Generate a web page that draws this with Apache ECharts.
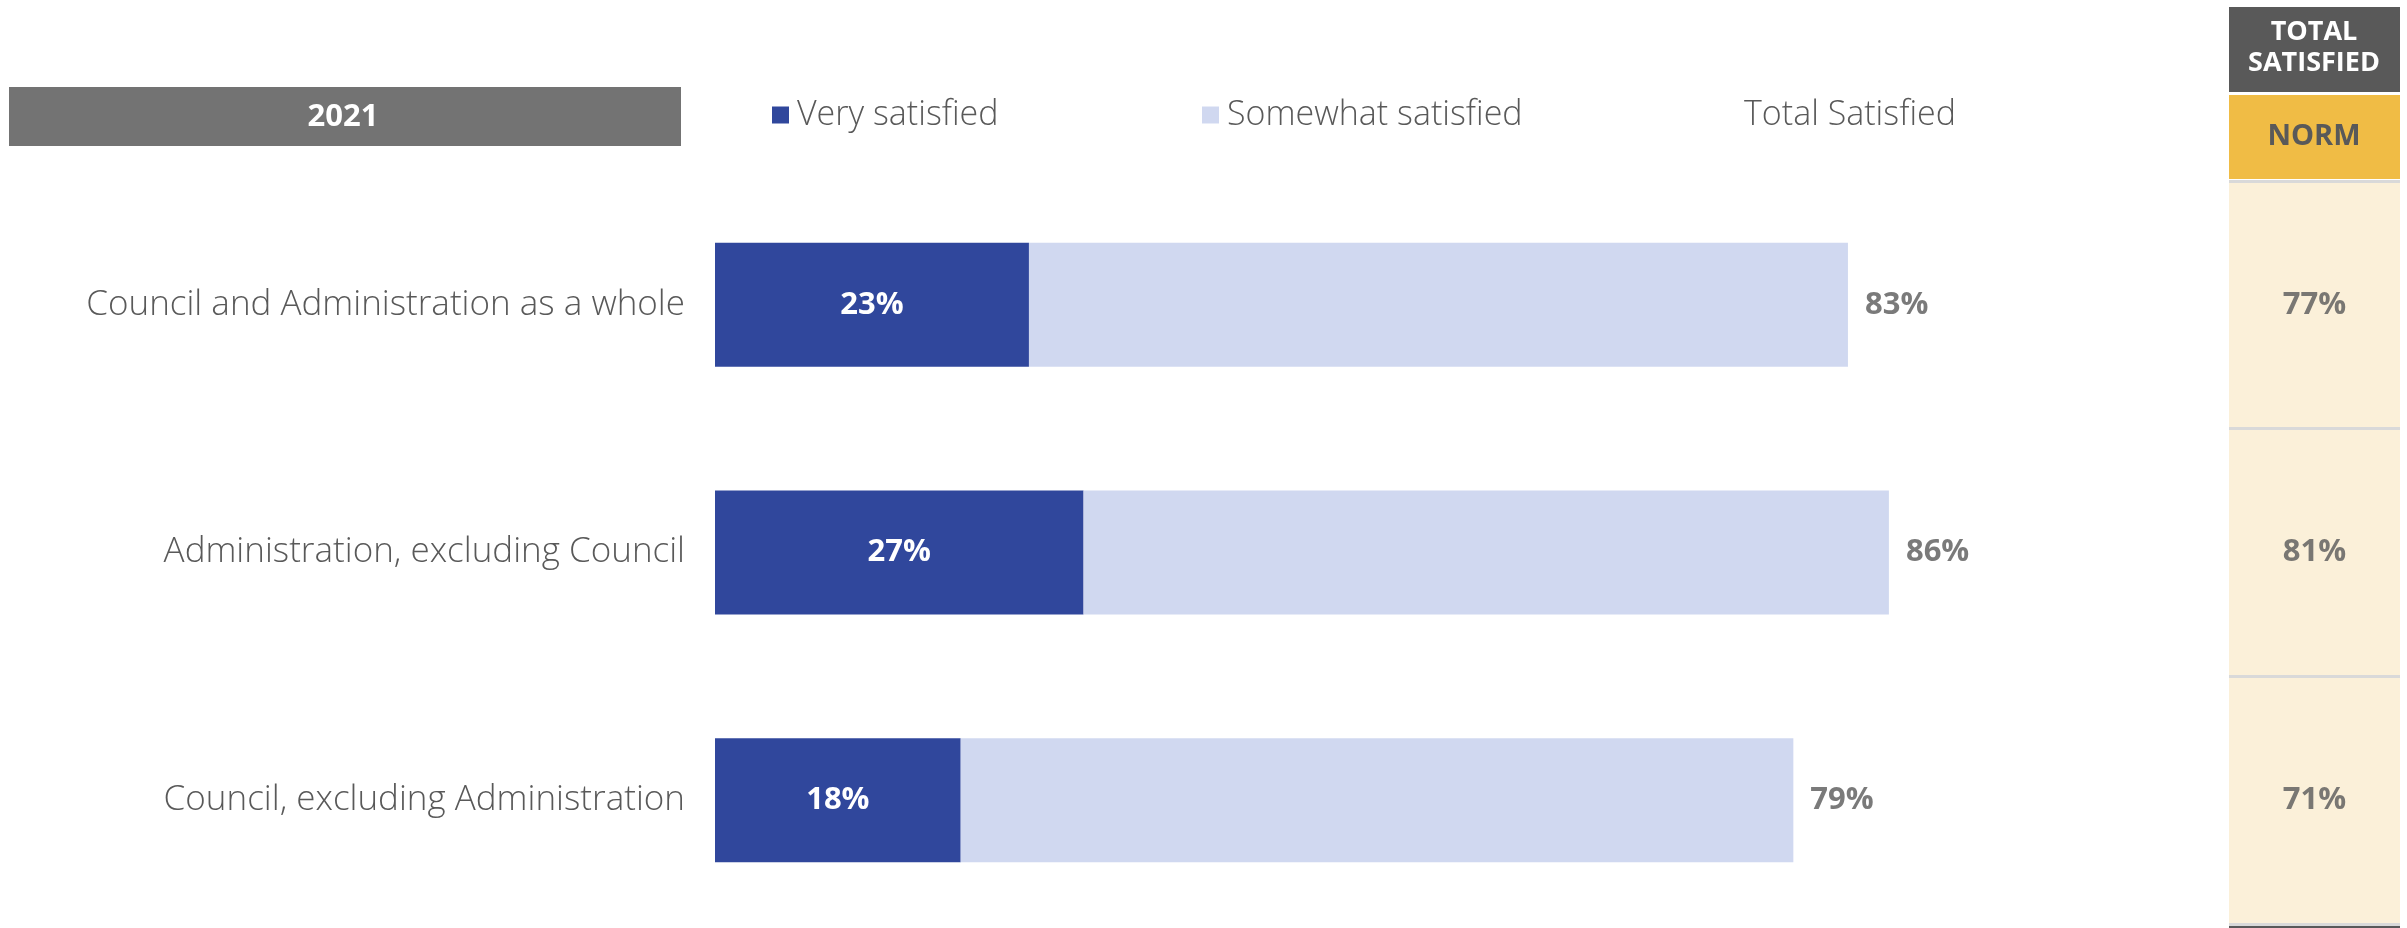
<!DOCTYPE html>
<html>
<head>
<meta charset="utf-8">
<title>Satisfaction 2021</title>
<script src="https://cdn.jsdelivr.net/npm/echarts@6/dist/echarts.min.js"></script>
<style>
  html, body { margin: 0; padding: 0; background: #fff; }
  #chart { width: 2407px; height: 928px; }
</style>
</head>
<body>
<div id="chart"></div>
<script>
// data
var categories = ['Council and Administration as a whole', 'Administration, excluding Council', 'Council, excluding Administration']
var verySatisfied = [23, 27, 18]
var somewhatSatisfied = [60, 59, 61]
var totalSatisfied = [83, 86, 79]
var normTotal = [77, 81, 71]
var yearLabel = '2021'

var FONT = '"Open Sans", "Noto Sans", sans-serif'
var GRAY = '#595959'

var chart = echarts.init(document.getElementById('chart'))

chart.setOption({
  animation: false,
  textStyle: { fontFamily: FONT },
  legend: [
    {
      left: 767, top: 93,
      icon: 'rect',
      itemWidth: 17, itemHeight: 17,
      textStyle: { fontSize: 34, fontWeight: 300, color: GRAY, fontFamily: FONT, padding: [0, 0, 0, 3] },
      data: ['Very satisfied']
    },
    {
      left: 1197, top: 93,
      icon: 'rect',
      itemWidth: 17, itemHeight: 17,
      textStyle: { fontSize: 34, fontWeight: 300, color: GRAY, fontFamily: FONT, padding: [0, 0, 0, 3] },
      data: ['Somewhat satisfied']
    },
    {
      left: 1717, top: 93,
      itemWidth: 17, itemHeight: 17,
      textStyle: { fontSize: 34, fontWeight: 300, color: GRAY, fontFamily: FONT },
      data: [{ name: 'Total Satisfied', icon: 'none' }]
    }
  ],
  grid: [
    // bars
    { left: 715, right: 327, top: 181, bottom: 4 },
    // norm column
    { left: 2229, right: 7, top: 181, bottom: 4 }
  ],
  xAxis: [
    {
      gridIndex: 0,
      type: 'value',
      min: 0,
      max: 100,
      show: false
    },
    {
      gridIndex: 1,
      type: 'category',
      data: ['NORM'],
      position: 'top',
      axisLine: { show: false },
      axisTick: { show: false },
      axisLabel: { show: false }
    }
  ],
  yAxis: [
    {
      gridIndex: 0,
      type: 'category',
      inverse: true,
      data: categories,
      axisLine: { show: false },
      axisTick: { show: false },
      axisLabel: {
        margin: 30,
        fontSize: 35,
        fontWeight: 300,
        color: GRAY,
        fontFamily: FONT
      }
    },
    {
      gridIndex: 1,
      type: 'category',
      inverse: true,
      data: categories,
      axisLine: { show: false },
      axisTick: { show: false },
      axisLabel: { show: false },
      // 单元格背景
      splitArea: {
        show: true,
        areaStyle: { color: ['#FBF0D9'] }
      },
      splitLine: {
        show: true,
        lineStyle: { color: '#D9D9D9', width: 3 }
      }
    }
  ],
  series: [
    {
      name: 'Very satisfied',
      type: 'bar',
      stack: 'sat',
      barWidth: 124,
      data: verySatisfied,
      itemStyle: { color: '#30479C' },
      label: {
        show: true,
        position: 'inside',
        formatter: '{c}%',
        color: '#fff',
        fontWeight: 'bold',
        fontSize: 31,
        fontFamily: FONT
      }
    },
    {
      name: 'Somewhat satisfied',
      type: 'bar',
      stack: 'sat',
      barWidth: 124,
      data: somewhatSatisfied,
      itemStyle: { color: '#D0D8F0' }
    },
    {
      // 总满意度标签
      name: 'Total Satisfied',
      type: 'scatter',
      symbolSize: 0,
      data: totalSatisfied.map(function (v, i) { return [v, i] }),
      itemStyle: { color: 'transparent' },
      label: {
        show: true,
        position: 'right',
        distance: 17,
        formatter: function (p) { return totalSatisfied[p.dataIndex] + '%' },
        color: GRAY,
        fontWeight: 'bold',
        fontSize: 31,
        fontFamily: FONT
      }
    },
    {
      name: 'Norm',
      type: 'scatter',
      xAxisIndex: 1,
      yAxisIndex: 1,
      symbolSize: 0,
      data: normTotal.map(function (v, i) { return [0, i] }),
      label: {
        show: true,
        position: 'inside',
        formatter: function (p) { return normTotal[p.dataIndex] + '%' },
        color: GRAY,
        fontWeight: 'bold',
        fontSize: 31,
        fontFamily: FONT
      }
    }
  ],
  graphic: [
    // 2021 header box
    {
      type: 'rect',
      shape: { x: 9, y: 87, width: 672, height: 59 },
      style: { fill: '#737373' }
    },
    {
      type: 'text',
      x: 343, y: 117,
      style: {
        text: yearLabel,
        fill: '#fff',
        font: 'bold 31px ' + FONT,
        align: 'center',
        verticalAlign: 'middle'
      }
    },
    // right column headers
    {
      type: 'rect',
      shape: { x: 2229, y: 7, width: 171, height: 85 },
      style: { fill: '#595959' }
    },
    {
      type: 'text',
      x: 2314, y: 48,
      style: {
        text: 'TOTAL\nSATISFIED',
        fill: '#fff',
        font: 'bold 27px ' + FONT,
        lineHeight: 31,
        align: 'center',
        verticalAlign: 'middle'
      }
    },
    {
      type: 'rect',
      shape: { x: 2229, y: 95, width: 171, height: 84 },
      style: { fill: '#F0BC45' }
    },
    {
      type: 'text',
      x: 2314, y: 137,
      style: {
        text: 'NORM',
        fill: GRAY,
        font: 'bold 29px ' + FONT,
        align: 'center',
        verticalAlign: 'middle'
      }
    },
    {
      type: 'rect',
      shape: { x: 2229, y: 923, width: 171, height: 5 },
      style: { fill: '#595959' }
    }
  ]
})
</script>
</body>
</html>
